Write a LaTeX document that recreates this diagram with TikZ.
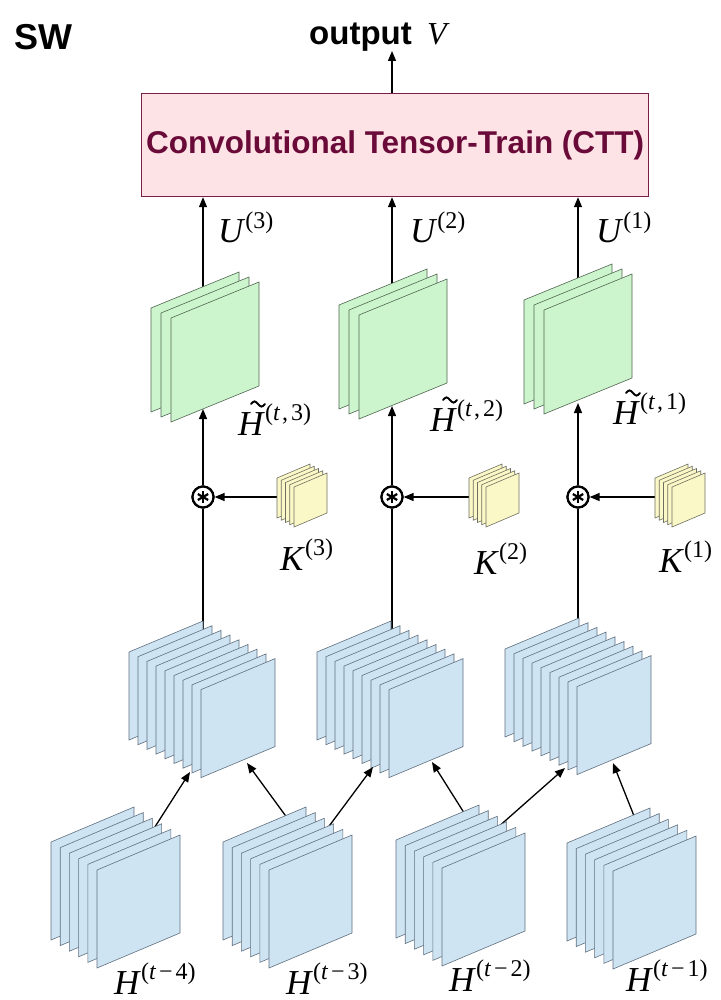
\documentclass[tikz,border=0pt]{standalone}
\usepackage{fontspec}
\setmainfont{Liberation Serif}
\newfontfamily\arialb{Liberation Sans}
\usetikzlibrary{arrows.meta,calc}
\definecolor{boxfill}{HTML}{FDE3E6}
\definecolor{boxline}{HTML}{7A2048}
\definecolor{boxtext}{HTML}{6A0A38}
\definecolor{gfill}{HTML}{CDF5CD}
\definecolor{gline}{HTML}{4F6650}
\definecolor{bfill}{HTML}{CFE4F3}
\definecolor{bline}{HTML}{5F6F7F}
\definecolor{yfill}{HTML}{FBF8C8}
\definecolor{yline}{HTML}{6F6F5F}
% x y lastindex dx dy w slant h style
\newcommand{\sheetstack}[9]{\foreach \i in {0,...,#3}{\draw[#9] ({#1+\i*#4},{#2+\i*#5}) -- ++(#6,-#7) -- ++(0,#8) -- ++(-#6,#7) -- cycle;}}
\newcommand{\supr}[1]{\raisebox{0.42em}{\fontsize{24}{24}\selectfont #1}}
\newcommand{\sym}[2]{{\fontsize{35}{35}\selectfont\textit{#1}\supr{#2}}}
\newcommand{\tm}[1]{(\textit{t}\kern3pt−\kern3pt#1)}
\newcommand{\tc}[1]{(\textit{t}\kern2pt,\kern3pt#1)}
\newcommand{\tildeover}[1]{\draw[tildestroke] ($(#1.base west)+(13,-31)$) sin ++(3.5,-2.6) cos ++(3.5,2.6) sin ++(3.5,2.6) cos ++(3.5,-2.6);}
\tikzset{
  arr/.style={line width=1.3pt, -{Triangle[length=10pt,width=8pt]}},
  ln/.style={line width=1.3pt},
  gsheet/.style={draw=gline, fill=gfill, line width=0.6pt},
  bsheet/.style={draw=bline, fill=bfill, line width=0.6pt},
  ysheet/.style={draw=yline, fill=yfill, line width=0.6pt},
  conv/.style={circle, draw, line width=2.2pt, minimum size=21pt, inner sep=0pt, fill=white},
  lbl/.style={anchor=base west, inner sep=0pt},
  tildestroke/.style={line width=1.9pt, line cap=round},
}
\begin{document}
\begin{tikzpicture}[x=1pt,y=-1pt]
\fill[white] (0,0) rectangle (720,1000);
\useasboundingbox (0,0) rectangle (720,1000);

% title
\node[lbl] (sw) at (14,50) {\arialb\bfseries\fontsize{36}{36}\selectfont SW};
\node[lbl] (outtxt) at (309,45) {\arialb\bfseries\fontsize{33}{33}\selectfont output};
\node[lbl] (V) at (427,45) {\fontsize{32}{32}\selectfont\textit{V}};

% CTT box
\node[draw=boxline, fill=boxfill, line width=1.2pt, minimum width=507pt, minimum height=103pt, inner sep=0pt, anchor=north west] (ctt) at (141,93)
  {\raisebox{-4pt}{\arialb\bfseries\fontsize{31.5}{31.5}\selectfont\color{boxtext}Convolutional Tensor-Train (CTT)}};
\coordinate (outtip) at (392,51);
\draw[arr] (ctt.north -| outtip) -- (outtip);

% named points
\coordinate (g1) at (203,300); \coordinate (g2) at (392,297); \coordinate (g3) at (578,294);
\coordinate (g1b) at (203,409); \coordinate (g2b) at (392,406); \coordinate (g3b) at (578,403);
\node[conv] (c1) at (203,497) {};
\node[conv] (c2) at (392,497) {};
\node[conv] (c3) at (578,497) {};
\coordinate (k1) at (300,497); \coordinate (k2) at (492,497); \coordinate (k3) at (678,497);
\coordinate (m1) at (203,640); \coordinate (m2) at (392,640); \coordinate (m3) at (578,637);
% mid stack arrow tips
\coordinate (m1L) at (190,772); \coordinate (m1R) at (247,763);
\coordinate (m2L) at (373,767); \coordinate (m2R) at (432,762);
\coordinate (m3L) at (565,768); \coordinate (m3R) at (613,763);
% bottom stack arrow origins (inside stacks)
\coordinate (b4) at (144,844);
\coordinate (b3a) at (296,830); \coordinate (b3b) at (318,841);
\coordinate (b2a) at (473,827); \coordinate (b2b) at (488,836);
\coordinate (b1) at (638,826);

% U arrows (behind green stacks)
\draw[arr] (g1) -- (g1 |- ctt.south);
\draw[arr] (g2) -- (g2 |- ctt.south);
\draw[arr] (g3) -- (g3 |- ctt.south);

% green stacks
\sheetstack{151}{308}{2}{10}{5}{88}{36}{104}{gsheet}
\sheetstack{339}{305}{2}{10}{5}{88}{36}{104}{gsheet}
\sheetstack{524}{300}{2}{10}{5}{88}{36}{104}{gsheet}

% lines from conv down into mid stacks
\draw[ln] (c1) -- (m1);
\draw[ln] (c2) -- (m2);
\draw[ln] (c3) -- (m3);

% mid blue stacks
\sheetstack{129}{652}{8}{9}{4.7}{74}{31}{88}{bsheet}
\sheetstack{317}{652}{8}{9}{4.7}{74}{31}{88}{bsheet}
\sheetstack{505}{649}{8}{9}{4.7}{74}{31}{88}{bsheet}

% arrows from bottom stacks
\draw[arr] (b4) -- (m1L);
\draw[arr] (b3a) -- (m1R);
\draw[arr] (b3b) -- (m2L);
\draw[arr] (b2a) -- (m2R);
\draw[arr] (b2b) -- (m3L);
\draw[arr] (b1) -- (m3R);

% bottom stacks
\sheetstack{51}{842}{5}{9.2}{5.6}{83}{35}{98}{bsheet}
\sheetstack{223}{842}{5}{9.2}{5.6}{83}{35}{98}{bsheet}
\sheetstack{396}{840}{5}{9.2}{5.6}{83}{35}{98}{bsheet}
\sheetstack{567}{843}{5}{9.2}{5.6}{83}{35}{98}{bsheet}

% kernel arrows
\draw[arr] (k1) -- (c1);
\draw[arr] (k2) -- (c2);
\draw[arr] (k3) -- (c3);
\sheetstack{277}{478}{4}{4.25}{2.25}{33}{14}{40}{ysheet}
\sheetstack{469}{478}{4}{4.25}{2.25}{33}{14}{40}{ysheet}
\sheetstack{655}{478}{4}{4.25}{2.25}{33}{14}{40}{ysheet}

% conv to green
\draw[arr] (c1) -- (g1b);
\draw[arr] (c2) -- (g2b);
\draw[arr] (c3) -- (g3b);

% conv circles with asterisks
\foreach \c in {c1,c2,c3}{
  \node[conv] at (\c) {};
  \foreach \a in {90,30,150}{
    \draw[line width=2.2pt] ($(\c)+(\a:6pt)$) -- ($(\c)+(\a+180:6pt)$);
  }
}

% labels
\node[lbl] (U3) at (218,243) {\sym{U}{(3)}};
\node[lbl] (U2) at (410,243) {\sym{U}{(2)}};
\node[lbl] (U1) at (596,243) {\sym{U}{(1)}};
\node[lbl] (Ht3) at (238,435) {\sym{H}{\tc{3}}};
\node[lbl] (Ht2) at (430,431) {\sym{H}{\tc{2}}};
\node[lbl] (Ht1) at (613,424) {\sym{H}{\tc{1}}};
\tildeover{Ht3}
\tildeover{Ht2}
\tildeover{Ht1}
\node[lbl] (K3) at (280,570) {\sym{K}{(3)}};
\node[lbl] (K2) at (474,574) {\sym{K}{(2)}};
\node[lbl] (K1) at (659,572) {\sym{K}{(1)}};
\node[lbl] (H4) at (114,994) {\sym{H}{\tm{4}}};
\node[lbl] (H3) at (286,994) {\sym{H}{\tm{3}}};
\node[lbl] (H2) at (449,991) {\sym{H}{\tm{2}}};
\node[lbl] (H1) at (626,991) {\sym{H}{\tm{1}}};
\end{tikzpicture}
\end{document}
